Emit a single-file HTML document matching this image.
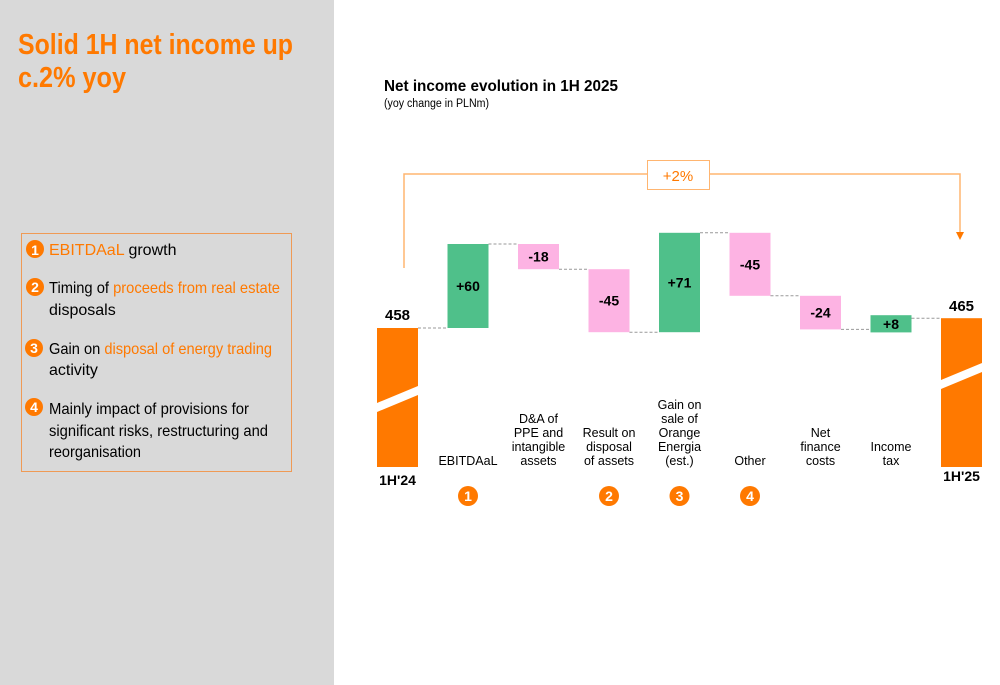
<!DOCTYPE html>
<html><head><meta charset="utf-8"><style>
html,body{margin:0;padding:0;background:#fff}
svg{display:block;font-family:"Liberation Sans",Arial,sans-serif}
</style></head><body>
<svg id="chart" width="1000" height="685" viewBox="0 0 1000 685" xmlns="http://www.w3.org/2000/svg">
<rect x="0" y="0" width="334" height="685" fill="#d9d9d9"/>
<g fill="#ff7900" font-weight="bold" font-size="29">
<text x="18" y="54" textLength="275" lengthAdjust="spacingAndGlyphs">Solid 1H net income up</text>
<text x="18" y="87" textLength="108" lengthAdjust="spacingAndGlyphs">c.2% yoy</text>
</g>
<rect x="21.5" y="233.5" width="270" height="238" fill="none" stroke="#ef9a55" stroke-width="1"/>
<g font-size="16" fill="#000">
<circle cx="35" cy="249" r="9" fill="#ff7900"/><text x="35" y="255" fill="#fff" font-weight="bold" font-size="14" text-anchor="middle">1</text>
<text x="49" y="255"><tspan fill="#ff7900">EBITDAaL</tspan> growth</text>
<circle cx="35" cy="287" r="9" fill="#ff7900"/><text x="35" y="292" fill="#fff" font-weight="bold" font-size="14" text-anchor="middle">2</text>
<text x="49" y="293" textLength="231" lengthAdjust="spacingAndGlyphs">Timing of <tspan fill="#ff7900">proceeds from real estate</tspan></text>
<text x="49" y="315">disposals</text>
<circle cx="34" cy="348" r="9" fill="#ff7900"/><text x="34" y="353" fill="#fff" font-weight="bold" font-size="14" text-anchor="middle">3</text>
<text x="49" y="354" textLength="223" lengthAdjust="spacingAndGlyphs">Gain on <tspan fill="#ff7900">disposal of energy trading</tspan></text>
<text x="49" y="375">activity</text>
<circle cx="34" cy="407" r="9" fill="#ff7900"/><text x="34" y="412" fill="#fff" font-weight="bold" font-size="14" text-anchor="middle">4</text>
<text x="49" y="414" textLength="200" lengthAdjust="spacingAndGlyphs">Mainly impact of provisions for</text>
<text x="49" y="436" textLength="219" lengthAdjust="spacingAndGlyphs">significant risks, restructuring and</text>
<text x="49" y="457" textLength="92" lengthAdjust="spacingAndGlyphs">reorganisation</text>
</g>
<text x="384" y="91" font-size="16" font-weight="bold" textLength="234" lengthAdjust="spacingAndGlyphs">Net income evolution in 1H 2025</text>
<text x="384" y="107" font-size="11.5" textLength="105" lengthAdjust="spacingAndGlyphs">(yoy change in PLNm)</text>
<g>
<polyline points="404,268 404,174 960,174 960,234" fill="none" stroke="#ffb570" stroke-width="1.5"/>
<polygon points="956,232 964,232 960,240" fill="#ff7900"/>
<rect x="647.5" y="160.5" width="62" height="29" fill="#fff" stroke="#ffb570"/>
<text x="678" y="181" font-size="15" fill="#ff7900" text-anchor="middle">+2%</text>
</g>
<g id="bars"></g>
</svg>
<script>
const categories = ["1H'24","EBITDAaL","D&A of|PPE and|intangible|assets","Result on|disposal|of assets","Gain on|sale of|Orange|Energia|(est.)","Other","Net|finance|costs","Income|tax","1H'25"];
const startValue = 458;
const deltas = [60,-18,-45,71,-45,-24,8];
const endValue = 465;
const badges = [null,"1",null,"2","3","4",null,null,null];

const svg = document.getElementById('bars');
const NS = "http://www.w3.org/2000/svg";
const y = v => 328 - (v - startValue) * 1.4;
const xAt = i => 377 + i * 70.5;
const W = 41, BOTTOM = 467;
function mk(tag, attrs){const e=document.createElementNS(NS,tag);for(const k in attrs)e.setAttribute(k,attrs[k]);svg.appendChild(e);return e;}

let r = mk('rect',{x:xAt(0),y:y(startValue),width:W,height:BOTTOM-y(startValue),fill:'#ff7900'});


let p = mk('polygon',{points:`${xAt(0)},403 ${xAt(0)+W},386 ${xAt(0)+W},395 ${xAt(0)},412`,fill:'#fff'});


let t = mk('text',{x:xAt(0)+W/2,y:y(startValue)-8,'font-size':15,'font-weight':'bold','text-anchor':'middle'});
t.textContent = String(startValue);



let cum = startValue;
deltas.forEach((d,k)=>{
  const i = k+1;
  const a = cum, b = cum + d;
  const top = y(Math.max(a,b)), bot = y(Math.min(a,b));
  const ln = mk('line',{x1:xAt(i-1)+W,x2:xAt(i),y1:y(a),y2:y(a),stroke:'#999','stroke-dasharray':'3,2','stroke-width':1});
  
  
  const rc = mk('rect',{x:xAt(i),y:top,width:W,height:Math.max(bot-top,1),fill:d>0?'#4fc08a':'#fdb3e3'});
  
  
  const small = (bot-top) < 16;
  const tx = mk('text',{x:xAt(i)+W/2,y:(top+bot)/2+5,'font-size':14,'font-weight':'bold','text-anchor':'middle'});
  tx.textContent = (d>0?'+':'')+d;
  
  
  if(small){ rc.setAttribute('y',top-3); rc.setAttribute('height',bot-top+6); }
  cum = b;
});
const lnE = mk('line',{x1:xAt(7)+W,x2:xAt(8),y1:y(cum),y2:y(cum),stroke:'#999','stroke-dasharray':'3,2'});


r = mk('rect',{x:xAt(8),y:y(endValue),width:W,height:BOTTOM-y(endValue),fill:'#ff7900'});


p = mk('polygon',{points:`${xAt(8)},380 ${xAt(8)+W},363 ${xAt(8)+W},372 ${xAt(8)},389`,fill:'#fff'});


t = mk('text',{x:xAt(8)+W/2,y:y(endValue)-7,'font-size':15,'font-weight':'bold','text-anchor':'middle'});
t.textContent = String(endValue);



categories.forEach((c,i)=>{
  const lines = c.split('|');
  const cx = xAt(i)+W/2;
  if(i===0||i===8){
    const tl = mk('text',{x:cx,y:i===0?485:481,'font-size':14,'font-weight':'bold','text-anchor':'middle'});
    tl.textContent = c;
    
    
    return;
  }
  lines.forEach((l,j)=>{
    const tl = mk('text',{x:cx,y:465-(lines.length-1-j)*14,'font-size':12.5,'text-anchor':'middle'});
    tl.textContent = l;
    
    
  });
  if(badges[i]){
    const cc = mk('circle',{cx:cx,cy:496,r:10,fill:'#ff7900'});
    
    
    const bt = mk('text',{x:cx,y:501,'font-size':14,'font-weight':'bold',fill:'#fff','text-anchor':'middle'});
    bt.textContent = badges[i];
    
    
  }
});
</script>
</body></html>
